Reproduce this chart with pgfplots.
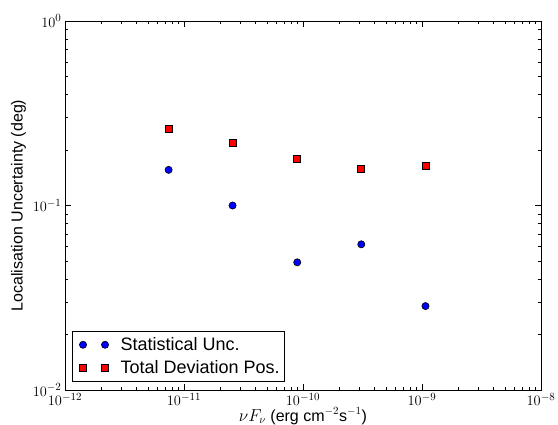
\documentclass[border=0pt]{standalone}
\usepackage{fontspec}
\setmainfont{Liberation Sans}
\usepackage{pgfplots}
\pgfplotsset{compat=1.18}

\begin{document}
\begin{tikzpicture}
% fixed frame: 558 x 425 with the axis at (65,35) from the lower left
\useasboundingbox (-65pt,-35pt) rectangle (493pt,390pt);
\begin{axis}[
    at={(0pt,0pt)}, anchor=south west,
    scale only axis,
    width=476pt, height=369pt,
    xmode=log, ymode=log,
    xmin=1e-12, xmax=1e-8,
    ymin=1e-2, ymax=1,
    xtick={1e-12,1e-11,1e-10,1e-9,1e-8},
    ytick={1e-2,1e-1,1},
    axis line style={line width=0.8pt},
    major tick length=6pt, minor tick length=3pt,
    every tick/.style={black, line width=0.6pt},
    tick label style={font=\fontsize{15.5}{18}\selectfont},
    label style={font=\fontsize{16}{19}\selectfont},
    xlabel={$\nu F_\nu$ (erg cm$^{-2}$s$^{-1}$)},
    xlabel style={yshift=5pt},
    ylabel={Localisation Uncertainty (deg)},
    legend style={
        at={(axis description cs:0.015,0.022)}, anchor=south west,
        draw=black, line width=0.6pt,
        font=\fontsize{18}{21}\selectfont,
        row sep=4.5pt, inner xsep=3pt, inner ysep=4.5pt,
    },
    legend cell align=left,
    legend image code/.code={%
        \draw[#1] plot coordinates {(0pt,0pt) (22pt,0pt)};
        \path[draw=none] (-7.6pt,0pt) -- (35.6pt,0pt);},
]
\addplot[only marks, mark=*, mark size=3.6pt,
    mark options={fill=blue, draw=black, line width=0.6pt}]
    coordinates {
    (7.43e-12,0.156)
    (2.56e-11,0.100)
    (8.95e-11,0.0492)
    (3.09e-10,0.0616)
    (1.07e-9,0.0285)
    };
\addlegendentry{Statistical Unc.}
\addplot[only marks, mark=square*, mark size=3.5pt,
    mark options={fill=red, draw=black, line width=0.6pt}]
    coordinates {
    (7.43e-12,0.260)
    (2.56e-11,0.219)
    (8.95e-11,0.179)
    (3.09e-10,0.158)
    (1.07e-9,0.164)
    };
\addlegendentry{Total Deviation Pos.}
\end{axis}
\end{tikzpicture}
\end{document}
